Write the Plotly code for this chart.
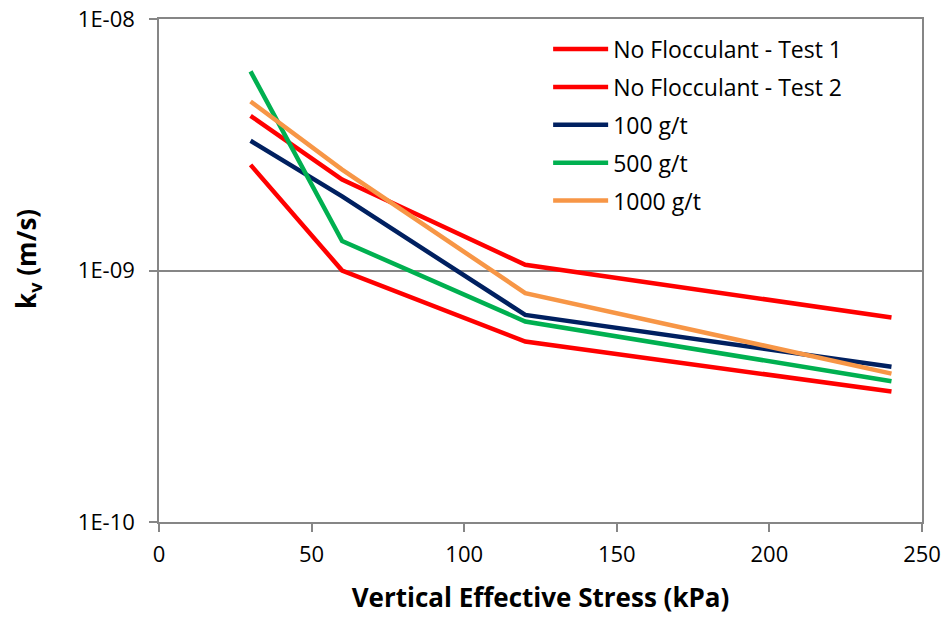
import plotly.graph_objects as go

stress = [30, 60, 120, 240]
series_names = ["No Flocculant - Test 1", "No Flocculant - Test 2", "100 g/t", "500 g/t", "1000 g/t"]
no_floc_test1 = [4.12e-9, 2.30e-9, 1.054e-9, 6.50e-10]
no_floc_test2 = [2.63e-9, 1.00e-9, 5.22e-10, 3.30e-10]
floc_100 = [3.28e-9, 1.97e-9, 6.66e-10, 4.14e-10]
floc_500 = [6.19e-9, 1.31e-9, 6.27e-10, 3.63e-10]
floc_1000 = [4.70e-9, 2.52e-9, 8.13e-10, 3.89e-10]
series_values = [no_floc_test1, no_floc_test2, floc_100, floc_500, floc_1000]
colors = ["#FF0000", "#FF0000", "#002060", "#00B050", "#F79646"]

x_ticks = [0, 50, 100, 150, 200, 250]
y_tickvals = [1e-10, 1e-9, 1e-8]
y_ticktext = ["1E-10", "1E-09", "1E-08"]

FONT = "Open Sans"

fig = go.Figure()
for name, vals, col in zip(series_names, series_values, colors):
    fig.add_trace(go.Scatter(
        x=stress, y=vals, mode="lines", name=name, legendgroup=name,
        line=dict(color=col, width=4.5),
    ))

fig.update_layout(
    width=946, height=619,
    margin=dict(l=159, r=24, t=19, b=97, autoexpand=False),
    paper_bgcolor="white", plot_bgcolor="white",
    font=dict(family=FONT, size=22, color="#000000"),
    showlegend=True,
    legend=dict(
        x=0.51, y=0.983, xanchor="left", yanchor="top",
        bgcolor="rgba(0,0,0,0)", borderwidth=0,
        font=dict(family=FONT, size=23, color="#000000"),
        itemwidth=55, tracegroupgap=5,
    ),
    xaxis=dict(
        range=[0, 250], tickvals=x_ticks, ticks="outside", ticklen=8,
        tickcolor="#868686", tickwidth=1.5, ticklabelstandoff=4,
        showline=True, linecolor="#868686", linewidth=1.5, mirror=True,
        showgrid=False, zeroline=False,
        title=dict(text="<b>Vertical Effective Stress (kPa)</b>",
                   font=dict(family=FONT, size=26), standoff=22),
        tickfont=dict(family=FONT, size=22),
    ),
    yaxis=dict(
        type="log", range=[-10, -8], tickvals=y_tickvals, ticktext=y_ticktext,
        ticks="outside", ticklen=8, tickcolor="#868686", tickwidth=1.5,
        ticklabelstandoff=10,
        showline=True, linecolor="#868686", linewidth=1.5, mirror=True,
        showgrid=True, gridcolor="#868686", gridwidth=1.5, zeroline=False,
        tickfont=dict(family=FONT, size=22),
    ),
    annotations=[dict(
        text="<b>k<sub>v</sub> (m/s)</b>", xref="paper", yref="paper",
        x=-0.173, y=0.523, xanchor="center", yanchor="middle",
        textangle=-90, showarrow=False,
        font=dict(family=FONT, size=26, color="#000000"),
    )],
)

fig.write_html("out.html", config={"displayModeBar": False},
               post_script="document.body.style.margin='0';")
